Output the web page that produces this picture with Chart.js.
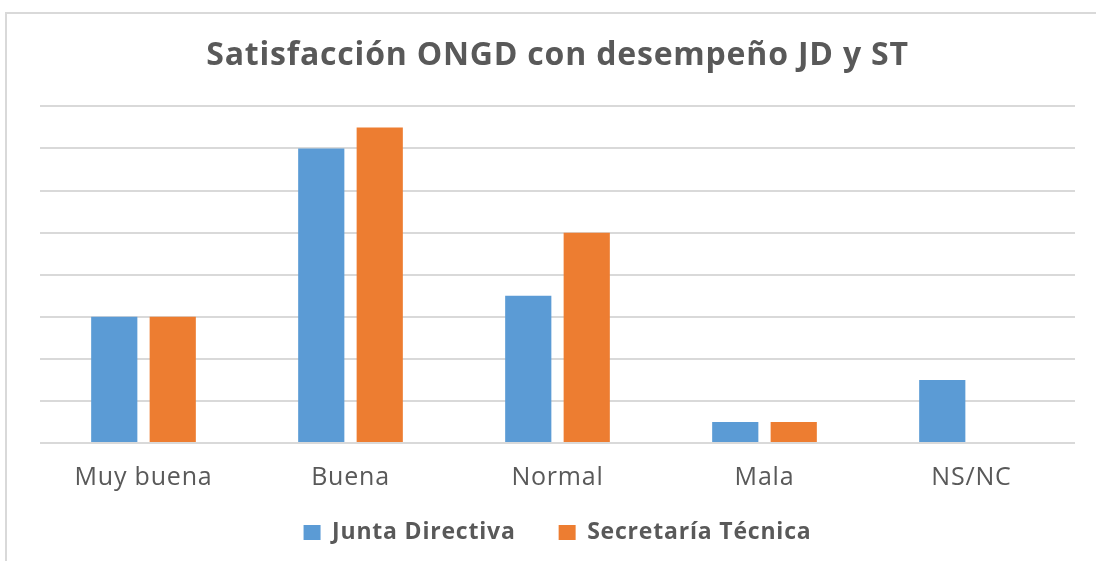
<!DOCTYPE html>
<html>
<head>
<meta charset="utf-8">
<script src="https://cdn.jsdelivr.net/npm/chart.js@4"></script>
<style>
  body { margin: 0; background: #fff; }
  #wrap { position: relative; width: 1096px; height: 561px; }
  #frame { position: absolute; left: 5px; top: 12px; right: 0; bottom: 0;
           border-top: 2px solid #d9d9d9; border-left: 2px solid #d9d9d9; pointer-events: none; }
</style>
</head>
<body>
<div id="wrap">
  <canvas id="barChart" width="1096" height="561"></canvas>
  <div id="frame"></div>
</div>
<script>
const categories = ['Muy buena', 'Buena', 'Normal', 'Mala', 'NS/NC'];
const juntaDirectiva = [6, 14, 7, 1, 3];
const secretariaTecnica = [6, 15, 10, 1, 0];

const data = {
  labels: categories,
  datasets: [{
    label: 'Junta Directiva',
    data: juntaDirectiva,
    backgroundColor: '#5b9bd5'
  }, {
    label: 'Secretaría Técnica',
    data: secretariaTecnica,
    backgroundColor: '#ed7d31'
  }]
};

// slightly wider text, like the original
const spacing = {
  id: 'spacing',
  beforeLayout(chart) { chart.ctx.letterSpacing = '0.8px'; },
  beforeDraw(chart) { chart.ctx.letterSpacing = '0.8px'; }
};

// legend padding is wide (gap between items), so pull the legend up a bit
const legendNudge = {
  id: 'legendNudge',
  beforeLayout(chart) {
    const lg = chart.legend;
    if (lg && !lg._nudged) {
      const fit = lg.fit;
      lg.fit = function () { fit.call(this); this.height -= 20; };
      lg._nudged = true;
    }
  },
  afterLayout(chart) {
    const lg = chart.legend;
    lg.top -= 27;
    lg.height += 27;
  }
};

const config = {
  type: 'bar',
  data: data,
  plugins: [spacing, legendNudge],
  options: {
    responsive: false,
    animation: false,
    categoryPercentage: 0.565,
    barPercentage: 0.79,
    layout: { padding: { left: 40, right: 21, top: 0, bottom: 0 } },
    plugins: {
      title: {
        display: true,
        text: 'Satisfacción ONGD con desempeño JD y ST',
        color: '#595959',
        font: { family: 'Open Sans', size: 32, weight: 'bold' },
        padding: { top: 37, bottom: 31 }
      },
      legend: {
        position: 'bottom',
        labels: {
          color: '#595959',
          font: { family: 'Open Sans', size: 23, weight: 'bold' },
          boxWidth: 17,
          boxHeight: 15,
          padding: 43
        }
      },
      tooltip: { enabled: false }
    },
    scales: {
      x: {
        grid: { display: false },
        border: { display: false },
        ticks: {
          color: '#595959',
          font: { family: 'Open Sans', size: 25 },
          padding: 12
        }
      },
      y: {
        beginAtZero: true,
        min: 0,
        max: 16,
        ticks: { stepSize: 2, display: false },
        border: { display: false },
        grid: { color: '#d9d9d9', lineWidth: 2, drawTicks: false }
      }
    }
  }
};

var myChart = new Chart(document.getElementById('barChart'), config);
</script>
</body>
</html>
